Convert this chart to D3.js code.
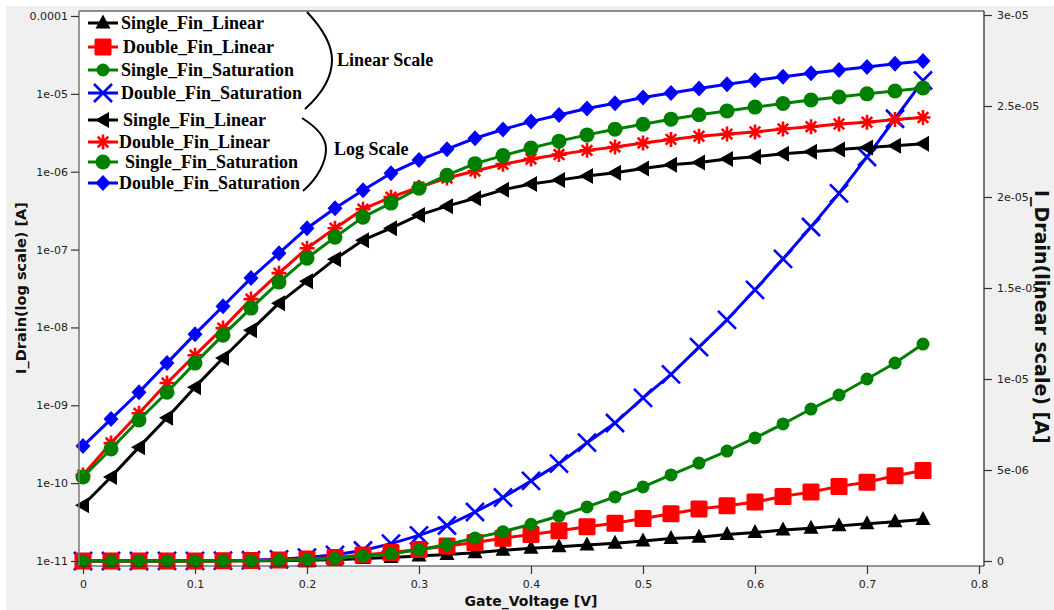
<!DOCTYPE html>
<html>
<head>
<meta charset="utf-8">
<script src="https://cdn.jsdelivr.net/npm/d3@7"></script>
<style>
  body { margin: 0; background: #ffffff; }
  svg { display: block; }
</style>
</head>
<body>
<svg id="chart" width="1054" height="610"></svg>
<script>
// Gate voltage sweep [V]
const gateVoltage = [0, 0.025, 0.05, 0.075, 0.1, 0.125, 0.15, 0.175, 0.2, 0.225,
  0.25, 0.275, 0.3, 0.325, 0.35, 0.375, 0.4, 0.425, 0.45, 0.475,
  0.5, 0.525, 0.55, 0.575, 0.6, 0.625, 0.65, 0.675, 0.7, 0.725, 0.75];

// Drain current [A] for each device / bias condition
const singleFinLinear = [5.2e-11, 1.2e-10, 2.9e-10, 6.9e-10, 1.71e-9, 4.04e-9, 9.2e-9, 2.05e-8, 3.93e-8, 7.53e-8,
  1.32e-7, 1.88e-7, 2.77e-7, 3.61e-7, 4.57e-7, 5.85e-7, 6.95e-7, 7.8e-7, 8.8e-7, 9.7e-7,
  1.1e-6, 1.23e-6, 1.31e-6, 1.46e-6, 1.56e-6, 1.7e-6, 1.8e-6, 1.93e-6, 2.05e-6, 2.16e-6, 2.28e-6];
const doubleFinLinear = [1.27e-10, 3.27e-10, 7.9e-10, 1.93e-9, 4.4e-9, 9.8e-9, 2.31e-8, 4.98e-8, 1.04e-7, 1.88e-7,
  3.3e-7, 4.71e-7, 6.32e-7, 8.3e-7, 1.02e-6, 1.25e-6, 1.46e-6, 1.66e-6, 1.88e-6, 2.08e-6,
  2.34e-6, 2.6e-6, 2.86e-6, 3.04e-6, 3.24e-6, 3.55e-6, 3.79e-6, 4.1e-6, 4.33e-6, 4.68e-6, 4.97e-6];
const singleFinSaturation = [1.2e-10, 2.74e-10, 6.46e-10, 1.47e-9, 3.48e-9, 7.96e-9, 1.77e-8, 3.82e-8, 7.76e-8, 1.44e-7,
  2.61e-7, 3.95e-7, 6.14e-7, 9.02e-7, 1.27e-6, 1.61e-6, 2.02e-6, 2.47e-6, 2.97e-6, 3.52e-6,
  4.07e-6, 4.73e-6, 5.38e-6, 6.04e-6, 6.76e-6, 7.53e-6, 8.35e-6, 9.12e-6, 1.0e-5, 1.088e-5, 1.192e-5];
const doubleFinSaturation = [2.99e-10, 6.65e-10, 1.47e-9, 3.48e-9, 8.2e-9, 1.87e-8, 4.3e-8, 9.0e-8, 1.88e-7, 3.4e-7,
  5.79e-7, 9.57e-7, 1.41e-6, 1.95e-6, 2.69e-6, 3.49e-6, 4.4e-6, 5.35e-6, 6.5e-6, 7.58e-6,
  8.96e-6, 1.025e-5, 1.175e-5, 1.325e-5, 1.49e-5, 1.66e-5, 1.835e-5, 2.02e-5, 2.22e-5, 2.43e-5, 2.64e-5];

// Axis ticks and labels
const xTicks = [0, 0.1, 0.2, 0.3, 0.4, 0.5, 0.6, 0.7, 0.8];
const xTickLabels = ["0", "0.1", "0.2", "0.3", "0.4", "0.5", "0.6", "0.7", "0.8"];
const logTicks = [1e-11, 1e-10, 1e-9, 1e-8, 1e-7, 1e-6, 1e-5, 1e-4];
const logTickLabels = ["1e-11", "1e-10", "1e-09", "1e-08", "1e-07", "1e-06", "1e-05", "0.0001"];
const linTicks = [0, 5e-6, 1e-5, 1.5e-5, 2e-5, 2.5e-5, 3e-5];
const linTickLabels = ["0", "5e-06", "1e-05", "1.5e-05", "2e-05", "2.5e-05", "3e-05"];

const seriesNames = ["Single_Fin_Linear", "Double_Fin_Linear", "Single_Fin_Saturation", "Double_Fin_Saturation"];
const seriesColors = ["#000000", "#ff0000", "#008000", "#0000ff"];
const groupLabels = ["Linear Scale", "Log Scale"];

const svg = d3.select("#chart");
const W = 1054, H = 610;
const frame = { left: 79, right: 984, top: 11, bottom: 566 };

// background
svg.append("rect").attr("x", 0).attr("y", 0).attr("width", W).attr("height", H).attr("fill", "#ffffff");
svg.append("rect").attr("x", 6).attr("y", 6).attr("width", W - 6).attr("height", H - 6).attr("fill", "#f0f0f0");
svg.append("rect").attr("x", frame.left).attr("y", frame.top)
  .attr("width", frame.right - frame.left).attr("height", frame.bottom - frame.top).attr("fill", "#ffffff");

// scales
const x = d3.scaleLinear().domain([0, 0.8]).range([83, 979]);
const yLog = d3.scaleLog().domain([1e-11, 1e-4]).range([561, 16]);
const yLin = d3.scaleLinear().domain([0, 3e-5]).range([561, 15]);

// marker shapes
function drawMarker(g, type, color) {
  switch (type) {
    case "triUp":
      g.append("path").attr("d", "M0,-8.5L7.5,5.5L-7.5,5.5Z").attr("fill", color); break;
    case "triLeft":
      g.append("path").attr("d", "M-8,0L6,-8L6,8Z").attr("fill", color); break;
    case "square":
      g.append("rect").attr("x", -8.5).attr("y", -8.5).attr("width", 17).attr("height", 17)
        .attr("rx", 1.5).attr("fill", color); break;
    case "circleS":
      g.append("circle").attr("r", 6.5).attr("fill", color); break;
    case "circleL":
      g.append("circle").attr("r", 7.5).attr("fill", color); break;
    case "cross":
      g.append("path").attr("d", "M-9,-9L9,9M-9,9L9,-9")
        .attr("stroke", color).attr("stroke-width", 2.6).attr("fill", "none"); break;
    case "star":
      g.append("path").attr("d", "M0,-7.5L0,7.5M-7.5,0L7.5,0M-5.3,-5.3L5.3,5.3M-5.3,5.3L5.3,-5.3")
        .attr("stroke", color).attr("stroke-width", 2.6).attr("fill", "none"); break;
    case "diamond":
      g.append("path").attr("d", "M0,-8L7.5,0L0,8L-7.5,0Z").attr("fill", color); break;
  }
}

const seriesValues = [singleFinLinear, doubleFinLinear, singleFinSaturation, doubleFinSaturation];
const linearMarkers = ["triUp", "square", "circleS", "cross"];
const logMarkers = ["triLeft", "star", "circleL", "diamond"];

function drawSeries(idx, yScale, marker) {
  const pts = gateVoltage.map((v, i) => [v, seriesValues[idx][i]]);
  const line = d3.line().x(d => x(d[0])).y(d => yScale(d[1]));
  const g = svg.append("g");
  g.append("path").datum(pts).attr("d", line)
    .attr("fill", "none").attr("stroke", seriesColors[idx]).attr("stroke-width", 3)
    .attr("stroke-linejoin", "round");
  pts.forEach(d => {
    const m = g.append("g").attr("transform", `translate(${x(d[0])},${yScale(d[1])})`);
    drawMarker(m, marker, seriesColors[idx]);
  });
}

// linear-scale curves (right axis)
[3, 0, 1, 2].forEach(i => drawSeries(i, yLin, linearMarkers[i]));
// log-scale curves (left axis)
[0, 1, 2, 3].forEach(i => drawSeries(i, yLog, logMarkers[i]));

// frame
const frameG = svg.append("g").attr("fill", "none");
frameG.append("line").attr("x1", frame.left).attr("x2", frame.right).attr("y1", frame.top).attr("y2", frame.top)
  .attr("stroke", "#222").attr("stroke-width", 1.2);
frameG.append("line").attr("x1", frame.right).attr("x2", frame.right).attr("y1", frame.top).attr("y2", frame.bottom)
  .attr("stroke", "#222").attr("stroke-width", 1.2);
frameG.append("line").attr("x1", frame.left).attr("x2", frame.right).attr("y1", frame.bottom).attr("y2", frame.bottom)
  .attr("stroke", "#333").attr("stroke-width", 1.2);
frameG.append("line").attr("x1", frame.left).attr("x2", frame.left).attr("y1", frame.top).attr("y2", frame.bottom)
  .attr("stroke", "#777").attr("stroke-width", 1.5);

// axes
const tickFont = "DejaVu Sans, Verdana, sans-serif";
function styleAxis(g) {
  g.select(".domain").remove();
  g.selectAll(".tick line").attr("stroke", "#333").attr("stroke-width", 1.2);
  g.selectAll(".tick text").attr("fill", "#222").style("font-family", tickFont).style("font-size", "11px");
}
svg.append("g").attr("transform", `translate(${frame.left},0)`)
  .call(d3.axisLeft(yLog).tickValues(logTicks).tickFormat((d, i) => logTickLabels[i]).tickSize(8).tickPadding(3))
  .call(styleAxis);
svg.append("g").attr("transform", `translate(${frame.right},0)`)
  .call(d3.axisRight(yLin).tickValues(linTicks).tickFormat((d, i) => linTickLabels[i]).tickSize(8).tickPadding(5))
  .call(styleAxis);
svg.append("g").attr("transform", `translate(0,${frame.bottom})`)
  .call(d3.axisBottom(x).tickValues(xTicks).tickFormat((d, i) => xTickLabels[i]).tickSize(8).tickPadding(6))
  .call(styleAxis);

// axis titles
const titleFont = "DejaVu Sans, Verdana, sans-serif";
svg.append("text").attr("x", 531).attr("y", 606).attr("text-anchor", "middle")
  .style("font-family", titleFont).style("font-size", "14px").style("font-weight", "bold").attr("fill", "#111")
  .text("Gate_Voltage [V]");
svg.append("text").attr("transform", "translate(26,288) rotate(-90)").attr("text-anchor", "middle")
  .style("font-family", titleFont).style("font-size", "14.5px").style("font-weight", "bold").attr("fill", "#111")
  .text("I_Drain(log scale) [A]");
svg.append("text").attr("transform", "translate(1035,190) rotate(90)").attr("text-anchor", "start")
  .style("font-family", titleFont).style("font-size", "19px").style("font-weight", "bold").attr("fill", "#111")
  .text("I_Drain(linear scale) [A]");

// legend
const legendFont = "Liberation Serif, Times New Roman, serif";
const legendRows = [
  { s: 0, marker: "triUp", y: 23, tx: 121 },
  { s: 1, marker: "square", y: 47, tx: 123 },
  { s: 2, marker: "circleS", y: 70, tx: 121 },
  { s: 3, marker: "cross", y: 93, tx: 121 },
  { s: 0, marker: "triLeft", y: 120, tx: 123 },
  { s: 1, marker: "star", y: 142, tx: 119 },
  { s: 2, marker: "circleL", y: 162, tx: 125 },
  { s: 3, marker: "diamond", y: 183, tx: 119 }
];
const legend = svg.append("g");
legendRows.forEach(r => {
  const c = seriesColors[r.s];
  legend.append("line").attr("x1", 88).attr("x2", 118).attr("y1", r.y).attr("y2", r.y)
    .attr("stroke", c).attr("stroke-width", 3);
  const m = legend.append("g").attr("transform", `translate(103,${r.y})`);
  drawMarker(m, r.marker, c);
  legend.append("text").attr("x", r.tx).attr("y", r.y + 6)
    .style("font-family", legendFont).style("font-size", "18px").style("font-weight", "bold").attr("fill", "#000")
    .text(seriesNames[r.s]);
});

// braces grouping the legend entries
legend.append("path").attr("d", "M307,12 C324,30 332,45 332,60 C332,75 324,92 305,109")
  .attr("fill", "none").attr("stroke", "#000").attr("stroke-width", 2);
legend.append("path").attr("d", "M302,118 C318,128 326,138 326,149 C326,162 318,178 303,191")
  .attr("fill", "none").attr("stroke", "#000").attr("stroke-width", 2);
legend.append("text").attr("x", 337).attr("y", 66)
  .style("font-family", legendFont).style("font-size", "18px").style("font-weight", "bold").text(groupLabels[0]);
legend.append("text").attr("x", 334).attr("y", 155)
  .style("font-family", legendFont).style("font-size", "18px").style("font-weight", "bold").text(groupLabels[1]);
</script>
</body>
</html>
